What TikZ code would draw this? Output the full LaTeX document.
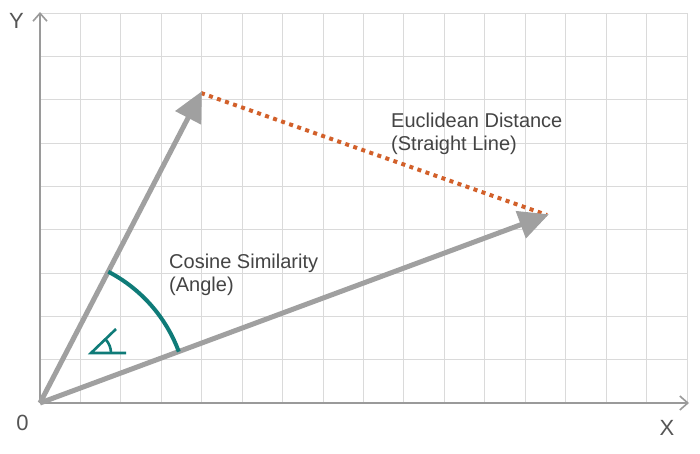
\documentclass[tikz,border=0pt]{standalone}
\usepackage{fontspec}
\setmainfont{Liberation Sans}
\usetikzlibrary{arrows.meta}
\definecolor{gridc}{HTML}{DADADA}
\definecolor{axisc}{HTML}{9A9A9A}
\definecolor{vecc}{HTML}{A0A0A0}
\definecolor{dotc}{HTML}{D2602A}
\definecolor{tealc}{HTML}{0F7B78}
\definecolor{txtc}{HTML}{444444}
\definecolor{axtxt}{HTML}{555555}
\tikzset{
  gridline/.style={draw=gridc, line width=1pt},
  axisline/.style={draw=axisc, line width=2pt, -{Straight Barb[length=8pt,width=14pt,line width=1.6pt]}},
  vector/.style={draw=vecc, line width=5pt, -{Triangle[length=30pt,width=28pt]}, shorten >=-2pt},
  dist/.style={draw=dotc, line width=4pt, dash pattern=on 4pt off 4.5pt},
  anglearc/.style={draw=tealc, line width=4pt},
  anglesym/.style={draw=tealc, line width=2.6pt},
  lbl/.style={text=txtc, font=\fontsize{20}{23}\selectfont, anchor=base west, inner sep=0pt},
  axlbl/.style={text=axtxt, font=\fontsize{22}{24}\selectfont, inner sep=0pt},
}
\begin{document}
\begin{tikzpicture}[x=1pt,y=-1pt]
\useasboundingbox (0,0) rectangle (700,453);
\fill[white] (0,0) rectangle (700,453);
% grid
\foreach \i in {1,...,16} {
  \draw[gridline] ({40+\i*40.44},13) -- ({40+\i*40.44},403);
}
\foreach \j in {1,...,9} {
  \draw[gridline] (40,{403-\j*43.33}) -- (687,{403-\j*43.33});
}
\coordinate (O) at (40,403);
\coordinate (Ytop) at (40,12);
\coordinate (Xend) at (689,403);
\coordinate (A) at (201,93);
\coordinate (B) at (547,215);
% axes
\draw[axisline] (O) -- (Ytop);
\draw[axisline] (O) -- (Xend);
% dotted distance
\draw[dist] (A) -- (B);
% vectors
\draw[vector] (O) -- (A);
\draw[vector] (O) -- (B);
% angle arc (y axis points down, so angles are negative)
\draw[anglearc] ([shift={(-62.5:148)}]O) arc[start angle=-62.5, end angle=-20.3, radius=148];
% angle symbol
\coordinate (S) at (91,353);
\coordinate (S1) at (126,353);
\coordinate (S2) at (116,329);
\draw[anglesym] (S1) -- (S) -- (S2);
\draw[anglesym] ([shift={(0:20)}]S) arc[start angle=0, end angle=-44, radius=20];
% labels
\node[lbl] (cos1) at (169,268) {Cosine Similarity};
\node[lbl] (cos2) at (169,291) {(Angle)};
\node[lbl] (euc1) at (391,127) {Euclidean Distance};
\node[lbl] (euc2) at (391,150) {(Straight Line)};
\node[axlbl] (ylab) at (16.5,21) {Y};
\node[axlbl] (olab) at (22.5,423) {0};
\node[axlbl] (xlab) at (667,428) {X};
\end{tikzpicture}
\end{document}
